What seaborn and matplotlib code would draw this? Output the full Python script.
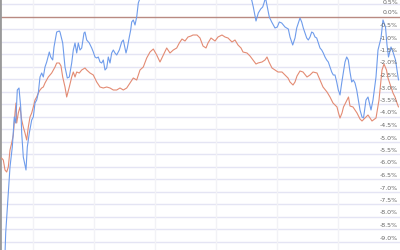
import matplotlib
matplotlib.use("Agg")
import matplotlib.pyplot as plt
import seaborn as sns
import pandas as pd

# ---- data (values in %) ----
blue_x = [5, 5.7, 8.3, 10, 12.3, 14.3, 15.7, 17.3, 19, 20.7, 21.7, 23.3, 26, 27.3, 29.3, 31.7, 33.3, 35, 36.7, 38.3,
          40, 41.7, 43.3, 45, 46.7, 49.3, 50.7, 52.7, 54, 56.7, 59.3, 60, 62.7, 65, 67.3, 69.3, 71.7, 73.3, 75, 76.7,
          78.3, 80, 81.7, 84, 85, 86.7, 89.3, 91.7, 93.3, 95, 96.7, 98.3, 100, 101.7, 103.3, 105, 106.7, 108.3, 110, 111.7,
          113.3, 115, 116.7, 119.3, 121.7, 123.3, 126, 127.3, 129.3, 130.7, 131.7, 133.3, 135, 136.7, 138.3, 139.3,
          142, 150, 160, 170, 180, 190, 200, 210, 220, 230, 240, 248,
          251.7, 253.3, 256, 258.3, 260.7, 262.7, 264, 265.5, 267.3, 269.3, 271.7, 275, 277.3, 279.3, 281.7, 285, 288.3,
          290, 292.7, 295, 296.7, 300, 301.7, 303.3, 305, 306.7, 308.3, 310, 311.7, 313.3, 315, 316.7, 318.3, 320, 321.7,
          323.3, 325, 326.7, 328.3, 330, 331.7, 333.3, 335, 336.7, 338.3, 340, 341.7, 343.3, 345, 346.7, 348.3, 350,
          351.7, 353.3, 355, 356.7, 358.3, 360, 362, 363.5, 366, 368, 371, 373, 376, 378, 381, 383, 385.5, 387, 388.5,
          391, 393, 395.5, 397, 398.5]
blue_v = [-9.5, -8.66, -7.06, -6.02, -5.22, -4.02, -4.26, -2.94, -2.86, -3.62, -4.66, -5.62, -6.14, -5.22, -4.66, -4.14,
          -4.02, -3.46, -3.34, -3.06, -2.42, -2.26, -2.42, -2.02, -1.82, -1.42, -1.62, -1.74, -1.22, -0.62, -0.58, -0.62,
          -1.06, -2.02, -2.46, -2.42, -1.86, -1.34, -1.06, -1.46, -1.06, -1.34, -1.26, -0.66, -0.62, -0.94, -1.06, -1.26,
          -1.42, -1.62, -1.66, -1.62, -1.82, -1.86, -1.74, -2.14, -2.06, -1.62, -1.86, -1.46, -1.34, -1.46, -1.54, -1.34,
          -1.02, -0.94, -1.46, -1.26, -0.82, -0.54, -0.22, -0.14, -0.34, -0.02, 0.54, 0.66,
          0.9, 1.2, 1.5, 1.4, 1.7, 1.9, 1.8, 1.6, 1.7, 1.4, 1.1, 0.8,
          0.66, 0.38, -0.18, 0.14, 0.30, 0.38, 0.54, 0.75, 0.38, -0.02, -0.22, -0.46, -0.42, -0.22, -0.26, -0.42, -0.50,
          -0.82, -1.14, -0.86, -0.46, -0.06, -0.22, -0.46, -0.66, -0.86, -0.94, -0.82, -0.62, -0.66, -0.82, -0.86, -1.06,
          -1.26, -1.34, -1.46, -1.62, -1.74, -1.82, -2.02, -2.22, -2.34, -2.34, -2.62, -2.94, -3.14, -2.66, -2.26, -1.82,
          -1.62, -1.74, -2.22, -2.62, -2.54, -2.66, -2.94, -3.34, -3.74, -4.02, -4.06, -3.34, -3.22, -3.74, -3.34, -2.42,
          -1.34, -0.86, -0.14, -0.42, -1.14, -1.62, -1.22, -1.42, -1.74, -2.14, -2.54]

red_x = [1.5, 3.3, 5, 6.7, 8.3, 10, 11.7, 13.3, 15, 16, 16.7, 18.3, 20, 21.7, 23.3, 25, 26.7, 28.3, 30, 31.7, 33.3, 35,
         36.7, 38.3, 40, 41.7, 43.3, 45, 46.7, 48.3, 50, 51.7, 53.3, 55, 56.7, 59.3, 61, 62.7, 65, 66.7, 69.3, 71.7, 73.3,
         75, 76.7, 79.3, 81.7, 85, 86.7, 90, 93.3, 96.7, 100, 103.3, 106.7, 110, 113.3, 116.7, 120, 123.3, 126.7, 130,
         133.3, 136.7, 140, 143.3, 146.7, 150, 153.3, 156.7, 160, 163.3, 166.7, 170, 173.3, 176.7, 179.3, 182, 185, 188,
         191, 193, 197, 200, 203, 206, 208, 211, 215, 218, 222, 225, 228, 232, 235, 238, 241, 243, 247, 250, 253, 256,
         258, 262, 265, 267, 269, 272, 275, 278, 282, 285, 288, 290, 293, 295, 297, 300, 303, 307, 310, 313, 317, 320,
         323, 327, 330, 333, 337, 338.5, 340, 342, 343.5, 347, 348.5, 350, 353, 357, 360, 362, 365, 368, 372, 376, 379,
         382, 384, 386.5, 388, 391, 393, 395, 397, 398.5]
red_v = [-5.66, -5.74, -6.14, -6.22, -6.02, -5.34, -5.06, -4.74, -3.86, -3.46, -4.26, -3.86, -3.62, -4.14, -4.42, -4.66,
         -4.94, -4.42, -4.02, -3.86, -3.62, -3.34, -3.22, -3.06, -2.94, -2.86, -2.82, -2.66, -2.54, -2.42, -2.34, -2.26,
         -2.14, -2.02, -1.86, -1.86, -1.98, -2.42, -2.82, -3.22, -2.82, -2.42, -2.22, -2.42, -2.22, -2.26, -2.14, -2.06,
         -2.14, -2.26, -2.34, -2.62, -2.82, -2.86, -2.82, -2.86, -2.94, -2.94, -2.86, -2.94, -2.86, -2.66, -2.46, -2.54,
         -2.14, -2.02, -1.66, -1.42, -1.30, -1.54, -1.82, -1.54, -1.26, -1.46, -1.34, -1.26, -1.06, -0.90, -0.98, -0.82,
         -0.78, -0.74, -0.74, -0.86, -1.18, -1.26, -1.06, -0.86, -0.98, -0.82, -0.74, -0.82, -0.86, -1.02, -0.94, -1.14,
         -1.26, -1.42, -1.46, -1.58, -1.74, -1.90, -1.86, -1.82, -1.74, -1.62, -1.82, -2.06, -2.14, -2.22, -2.22, -2.34,
         -2.46, -2.62, -2.74, -2.62, -2.38, -2.18, -2.22, -2.42, -2.34, -2.22, -2.26, -2.54, -2.82, -3.02, -3.22, -3.46,
         -3.62, -3.86, -4.06, -3.86, -3.62, -3.34, -3.22, -3.58, -3.62, -3.86, -4.10, -4.18, -4.06, -3.94, -4.18, -4.06,
         -3.34, -2.14, -1.90, -2.14, -2.46, -2.82, -3.06, -3.22, -3.46, -3.62]

y_ticks = [0.5, 0.0, -0.5, -1.0, -1.5, -2.0, -2.5, -3.0, -3.5, -4.0, -4.5, -5.0, -5.5, -6.0, -6.5, -7.0, -7.5, -8.0,
           -8.5, -9.0]
x_grid = [33, 94, 155, 216, 277, 338]

# ---- plot ----
sns.set_style("white")
fig = plt.figure(figsize=(4, 2.5), dpi=100)
ax = fig.add_axes([0, 0, 1, 1])

for t in y_ticks:
    if t != 0.0:
        ax.axhline(t, color="#e4e4f4", lw=1.0, zorder=0)
for gx in x_grid:
    ax.axvline(gx, color="#f2f2f6", lw=1.0, zorder=0)
ax.axhline(0.0, color="#b98a82", lw=1.0, zorder=1)

dfb = pd.DataFrame({"x": blue_x, "v": blue_v})
dfr = pd.DataFrame({"x": red_x, "v": red_v})
sns.lineplot(data=dfr, x="x", y="v", ax=ax, color="#e38b73", lw=0.8, estimator=None, errorbar=None, zorder=3)
sns.lineplot(data=dfb, x="x", y="v", ax=ax, color="#6f9ceb", lw=0.8, estimator=None, errorbar=None, zorder=4)

ax.set_xlim(0, 400)
ax.set_ylim(-9.34, 0.66)
ax.set_xticks([])
ax.set_yticks([])
ax.set_xlabel("")
ax.set_ylabel("")
for s in ["top", "right", "bottom"]:
    ax.spines[s].set_visible(False)
ax.spines["left"].set_color("#999999")
ax.spines["left"].set_linewidth(2)

for t in y_ticks:
    if t == y_ticks[0]:
        ax.text(0.995, 0.999, f"{t:.1f}%", transform=ax.transAxes, ha="right", va="top",
                fontsize=4.5, color="#666666", zorder=5)
    else:
        ax.text(0.995, t + 0.04, f"{t:.1f}%", transform=ax.get_yaxis_transform(), ha="right", va="bottom",
                fontsize=4.5, color="#666666", zorder=5)

fig.savefig("out.png", dpi=100)
